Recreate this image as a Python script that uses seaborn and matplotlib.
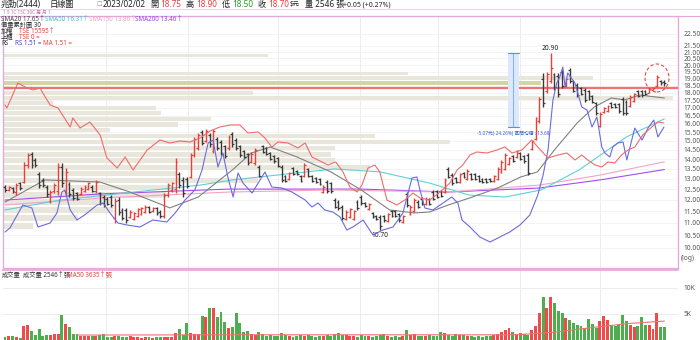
import numpy as np
import pandas as pd
import matplotlib
matplotlib.use("Agg")
import matplotlib.pyplot as plt
import matplotlib.ticker as mticker
from matplotlib.patches import Ellipse, Rectangle
from matplotlib.lines import Line2D
import seaborn as sns

# ---------------- data ----------------
opens = [12.62,12.45,12.55,12.35,12.78,12.85,13.70,14.25,13.95,13.25,12.95,12.60,11.95,12.40,12.40,13.60,12.40,12.75,12.45,12.30,
         12.28,12.42,12.52,12.62,12.40,12.30,12.15,12.05,12.15,11.20,12.00,11.55,11.55,11.25,11.18,11.30,11.38,11.48,11.68,11.50,
         11.62,11.48,11.30,12.20,12.45,12.50,13.25,12.95,13.00,13.10,14.20,14.60,15.50,15.00,15.35,14.45,15.10,14.95,14.70,14.60,
         15.40,15.05,14.70,14.45,14.25,13.85,13.80,13.60,14.70,14.60,14.32,14.15,14.05,13.60,13.12,12.98,13.52,13.40,13.12,13.15,
         13.48,13.12,13.02,12.98,12.38,12.85,12.78,12.00,11.92,11.70,11.18,11.25,11.18,11.92,12.15,11.86,11.60,11.42,11.30,11.25,
         11.28,11.08,11.50,11.50,11.36,11.04,12.25,11.38,11.52,11.92,12.05,11.82,12.02,12.38,12.40,12.40,12.38,13.50,13.20,13.02,
         12.84,13.30,13.00,13.22,13.22,13.12,13.00,13.00,13.00,12.88,13.00,13.35,13.50,13.75,14.15,14.10,14.32,14.15,14.20,14.55,
         15.10,16.20,19.00,18.10,18.80,19.30,19.20,19.50,18.45,19.65,18.80,18.55,18.30,18.20,18.10,17.78,17.30,15.90,16.72,16.80,
         17.32,17.28,17.25,17.60,17.40,17.12,17.45,18.12,18.12,18.15,18.02,18.22,18.45,18.85,18.75]
highs = [12.69,12.65,12.60,12.79,12.84,13.85,14.33,14.39,14.06,13.34,13.04,12.69,12.46,12.79,13.80,13.80,13.54,12.84,12.55,12.36,
         12.60,12.69,12.84,12.69,12.94,12.36,12.22,12.13,12.22,12.08,12.13,11.64,11.64,11.55,11.46,11.64,11.68,11.77,11.72,11.68,
         11.68,11.55,12.32,12.79,12.84,14.06,13.34,13.08,13.08,14.33,15.23,15.46,15.63,15.70,15.46,15.70,15.23,15.06,14.77,15.34,
         15.52,15.17,14.77,14.50,14.33,14.39,14.61,13.70,14.77,14.66,14.39,14.22,14.12,13.70,13.18,13.34,13.59,13.44,13.18,13.80,
         13.54,13.18,13.08,13.04,12.69,12.94,12.84,12.08,11.99,11.77,11.55,11.64,11.55,11.99,12.22,11.90,11.86,11.46,11.33,11.33,
         11.33,11.42,11.55,11.55,11.42,11.33,12.36,11.77,12.08,11.99,12.13,12.13,12.08,12.46,12.46,12.46,13.04,13.59,13.29,13.08,
         13.29,13.34,13.49,13.29,13.29,13.18,13.04,13.04,13.04,13.18,13.59,13.95,14.33,14.12,14.22,14.50,14.39,14.22,14.33,15.06,
         16.43,17.72,19.41,19.48,20.90,19.41,19.41,19.63,19.04,19.78,18.90,18.69,18.40,18.33,18.20,17.85,17.39,16.74,17.06,17.19,
         17.39,17.32,17.32,17.72,17.52,17.85,17.99,18.20,18.20,18.20,18.33,18.40,19.26,18.90,18.90]
lows = [12.36,12.41,12.32,12.22,12.46,12.79,13.54,13.54,13.59,12.55,12.60,12.13,11.86,12.32,12.22,12.60,12.22,12.13,11.99,11.99,
        12.22,12.36,12.46,12.36,12.32,11.77,11.68,11.77,11.68,11.00,11.33,11.12,11.00,11.21,11.12,11.25,11.33,11.42,11.42,11.46,
        11.33,11.21,11.21,12.13,12.36,12.32,12.55,12.13,12.55,13.04,14.12,14.50,14.77,14.94,14.66,14.33,14.50,14.22,14.06,14.50,
        14.66,14.50,14.12,14.06,13.70,13.80,13.70,13.08,14.33,14.22,13.95,13.80,13.59,12.84,12.84,12.94,13.18,13.18,12.84,13.08,
        13.08,12.84,12.79,12.69,12.32,12.32,12.32,11.64,11.55,11.12,11.12,11.21,11.12,11.55,11.77,11.68,11.55,11.21,11.12,10.70,
        11.04,11.04,11.25,11.25,11.04,11.00,11.68,11.33,11.46,11.64,11.77,11.77,11.77,11.99,12.08,12.13,12.32,13.04,12.69,12.79,
        12.79,13.04,12.94,12.94,12.94,12.84,12.79,12.79,12.84,12.84,12.94,13.29,13.44,13.70,13.85,14.06,13.95,13.80,13.18,14.50,
        15.06,16.06,17.06,17.99,18.69,18.20,17.72,18.33,18.40,18.69,18.06,17.72,17.85,17.39,17.52,17.32,16.55,15.81,16.68,16.74,
        17.00,17.00,16.68,16.55,16.55,17.06,17.39,17.72,17.72,17.85,17.99,18.20,18.40,18.54,18.50]
closes = [12.45,12.60,12.40,12.70,12.55,13.70,14.20,13.70,13.70,12.70,12.70,12.25,12.35,12.70,13.60,12.80,13.35,12.25,12.10,12.05,
          12.50,12.62,12.78,12.42,12.85,11.85,11.75,11.82,11.75,11.95,11.45,11.20,11.10,11.48,11.40,11.58,11.62,11.70,11.48,11.62,
          11.40,11.28,12.20,12.70,12.78,13.85,12.70,12.30,12.65,14.20,15.10,15.35,14.90,15.60,14.80,15.55,14.60,14.30,14.15,15.25,
          14.80,14.60,14.20,14.12,13.80,14.30,14.50,13.15,14.40,14.30,14.00,13.88,13.65,12.95,12.90,13.28,13.25,13.22,12.90,13.70,
          13.15,12.90,12.84,12.75,12.62,12.40,12.40,11.70,11.62,11.20,11.48,11.58,11.50,11.62,11.85,11.72,11.80,11.25,11.16,10.85,
          11.10,11.36,11.30,11.30,11.10,11.28,11.78,11.70,12.00,11.70,11.82,12.06,11.82,12.05,12.15,12.18,12.95,13.10,12.78,12.84,
          13.22,13.08,13.40,13.00,13.00,12.90,12.84,12.84,12.88,13.12,13.50,13.85,14.20,14.05,13.90,14.42,14.00,13.88,13.30,15.00,
          16.35,17.60,17.30,19.30,19.80,18.40,17.90,18.50,18.95,18.80,18.15,17.85,17.95,17.50,17.60,17.40,16.65,16.60,17.00,17.12,
          17.05,17.05,16.80,16.70,16.65,17.75,17.90,17.80,17.85,17.90,18.28,18.36,19.10,18.65,18.70]
volume = [630,770,830,600,450, 2700,2880,1790,960,2110, 770,960,960,1150,1090, 4800,3010,2560,1090,1090,
          770,700,770,700,770, 960,1150,640,580,770, 770,640,580,700,600, 500,450,550,500,450,
          600,500,550,500,600, 1410,2050,960,3260,1410, 1150,1090,4610,4480,6080, 6080,4480,5440,3390,2370,
          2560,5180,3260,1470,1730, 1200,900,1500,1100,800, 900,700,800,1300,900, 700,600,800,900,700,
          1000,700,600,800,700, 900,700,1100,1300,900, 1000,800,700,600,900, 800,700,600,700,900,
          1200,800,600,700,600, 700,1900,1000,1200,800, 700,800,900,700,800, 1600,1400,900,800,1100,
          900,1000,800,700,600, 700,600,800,700,900, 1200,1500,2000,2300,1500, 1200,1300,1100,1000,1900,
          2600,5200,8200,6200,8300, 7100,5600,5200,4200,3800, 3300,2800,2600,2400,4000, 3000,2300,3600,4600,3800,
          2900,2600,3100,4800,3600, 2900,2500,2600,4480,2880, 2880,2110,5180,2500,2546]

# moving averages (bar index, value)
sma20_i = [0,10.5,25,33,43.5,51,60,65,70,77,86,94,101.5,108,112,117,122.5,130,136,140.5,145,151,155.5,160,163.5,167.5,174]
sma20_v = [11.90,12.94,12.84,12.36,11.64,12.13,13.44,14.33,14.66,14.12,13.34,12.46,11.55,11.42,11.46,11.77,12.08,12.55,13.08,13.34,14.50,16.06,17.06,17.65,17.52,17.85,17.65]
sma50_i = [0,14.5,34,51.5,60,77,87,99,112,122.5,132,141.5,151.5,164,174]
sma50_v = [11.55,11.99,12.36,12.69,12.94,13.29,13.49,13.34,12.79,12.22,12.13,12.46,13.44,15.23,16.31]
sma150_i = [0,25,59,86,117,141,157,174]
sma150_v = [11.77,12.08,12.36,12.46,12.36,12.69,13.18,13.86]
sma200_i = [0,25,59,94,117,141,157,174]
sma200_v = [11.99,12.27,12.50,12.50,12.36,12.55,12.94,13.46]

rs_i = [0,1.3,4.7,7.1,8.7,11.9,13.7,15,15.8,17.2,19,21,24.3,25.9,27.7,29.8,32.2,35.6,39,42.7,44.9,47.5,50.1,52,53.6,54.9,
        56.2,57.5,58.8,60.2,61.5,62.8,65.2,67.3,68.6,70.4,73.1,75.7,79.2,81,82.6,84.4,86.5,88.4,90.2,91.8,94.5,97.1,99.7,
        102.4,105,107.4,108.7,109.5,110.8,112.9,115.6,117.9,119.5,120.6,122.7,125.3,128,130.6,133.2,135.9,138.5,140.6,142,
        143.3,144.6,145.6,146.4,147.2,147.8,148.5,150.4,152.2,153.6,154.9,156.2,157.5,158.3,159.6,160.4,161.7,163.1,164.1,
        165.4,166.2,168.1,169.7,171.2,172.3,173.9]
rs_v = [1.00,1.02,1.135,1.12,1.025,1.045,1.095,1.20,1.21,1.11,1.06,1.085,1.135,1.145,1.095,1.045,1.035,1.025,1.06,1.05,
        1.095,1.16,1.21,1.31,1.445,1.46,1.325,1.395,1.275,1.175,1.295,1.245,1.195,1.26,1.30,1.225,1.22,1.20,1.16,1.125,
        1.145,1.11,1.10,1.075,1.01,1.025,1.06,0.985,1.01,1.025,1.095,1.27,1.275,1.21,1.12,1.11,1.145,1.175,1.145,1.06,
        1.025,0.975,0.95,0.975,1.00,1.035,1.085,1.185,1.285,1.41,1.66,1.745,1.775,1.825,1.725,1.795,1.745,1.625,1.61,
        1.525,1.575,1.425,1.395,1.375,1.425,1.445,1.45,1.36,1.46,1.52,1.46,1.52,1.56,1.475,1.525]
rsma_i = [0,0.5,3.4,5.8,7.4,9.2,11.9,14,17.2,17.9,19.8,22.4,25.1,26.9,29.6,31.7,33.8,37.5,40.9,43.5,46.2,48.8,51.5,54.1,
          56.7,59.4,62,64.1,66.8,68.6,70.4,72,74.7,77.3,79.2,81,82.6,85.2,87.3,89.2,91,92.9,94.2,95.8,97.6,98.9,100.8,
          103.4,105.5,107.7,109.5,112.1,114.8,117.4,119.3,120.8,122.7,124.5,127.2,129.8,131.9,133.8,136.4,139,140.6,143.3,
          145.9,148.3,150.4,152.2,153.8,155.7,157.5,159.1,160.9,162.7,164.4,166.2,168.3,170.7,172.3,173.9]
rsma_v = [1.635,1.62,1.745,1.72,1.71,1.72,1.635,1.62,1.525,1.57,1.52,1.55,1.485,1.37,1.32,1.375,1.31,1.41,1.46,1.445,
          1.455,1.45,1.47,1.505,1.525,1.535,1.535,1.495,1.50,1.47,1.425,1.45,1.445,1.42,1.445,1.375,1.36,1.335,1.35,1.30,
          1.225,1.20,1.235,1.32,1.335,1.30,1.16,1.135,1.16,1.195,1.17,1.16,1.20,1.245,1.31,1.335,1.385,1.40,1.395,1.41,
          1.425,1.395,1.41,1.46,1.425,1.37,1.385,1.395,1.36,1.385,1.36,1.335,1.325,1.35,1.345,1.385,1.41,1.425,1.485,1.525,
          1.55,1.545]

volma_i = [19,64,100,135,145,155,165,174]
volma_v = [950,1000,1000,1000,1500,2400,3200,3635]

# volume-by-price profile: 30 price bins between the period low and high (thousand lots per bin)
vp_bins = 30
vp_range = (10.70, 20.90)
vp_vol = [3.0,7.5,11.0,10.8,16.3,17.0,25.5,17.3,36.7,33.2,32.8,33.2,44.7,37.2,10.7,17.5,20.8,15.8,15.3,5.0,
          67.0,25.0,1.0,53.8,59.0,40.5,0.0,0.0,0.0,26.5]

price_ticks = [10.0,10.5,11.0,11.5,12.0,12.5,13.0,13.5,14.0,14.5,15.0,15.5,16.0,16.5,17.0,17.5,18.0,18.5,19.0,19.5,20.0,20.5,21.0,21.5,22.5]
alert_price = 18.33

# ---------------- style ----------------
sns.set_theme(style="white")
plt.rcParams["font.family"] = ["Noto Sans", "Noto Sans CJK TC", "DejaVu Sans"]

RED = "#e8403a"
BLK = "#3a3a3a"
VRED = "#f04a4a"
VGRN = "#4cae4c"
PINK = "#e7a6dc"
GRID = "#ececec"

W, H = 700, 340
fig = plt.figure(figsize=(7, 3.4), dpi=100)
fx = lambda p: p / W
fy = lambda p: 1 - p / H

ax = fig.add_axes([fx(3), fy(268), fx(678) - fx(3), fy(16) - fy(268)])
axv = fig.add_axes([fx(3), 0, fx(678) - fx(3), fy(270)])

n = len(closes)
idx = np.arange(n)
XL = (-0.53, 177.6)

df = pd.DataFrame({"i": idx, "o": opens, "h": highs, "l": lows, "c": closes, "v": volume})
df["dir"] = np.where(df["c"] >= df["o"], "up", "down")

# price axis
ax.set_yscale("log")
ax.set_ylim(9.27, 24.08)
ax.set_xlim(*XL)
for gx in [26.6, 48.3, 72.0, 93.7, 114.2, 135.9, 157.0]:
    ax.axvline(gx, color=GRID, lw=0.7, zorder=0)
    axv.axvline(gx, color=GRID, lw=0.7, zorder=0)
for t in price_ticks:
    ax.axhline(t, color="#f3f3f3", lw=0.6, zorder=0)

# volume profile
edges = np.linspace(vp_range[0], vp_range[1], vp_bins + 1)
bin_h = edges[1] - edges[0]
span = XL[1] - XL[0]
vmax = 67.5
cur_bin = int((closes[-1] - vp_range[0]) // bin_h)
for k, vv in enumerate(vp_vol):
    if vv <= 0:
        continue
    ax.barh(edges[k] + 0.12 * bin_h, vv / vmax * span, height=0.76 * bin_h, left=XL[0], align="edge",
            color="#cfd8a2" if k == cur_bin else "#e9e6dc", lw=0, zorder=1)

ax.axhline(alert_price, color="#f07272", lw=1.6, zorder=2)

# moving averages
sns.lineplot(x=sma200_i, y=sma200_v, ax=ax, color="#a64cf0", lw=0.8, zorder=3)
sns.lineplot(x=sma150_i, y=sma150_v, ax=ax, color="#f5a3c4", lw=0.8, zorder=3)
sns.lineplot(x=sma50_i, y=sma50_v, ax=ax, color="#5fd0d4", lw=0.8, zorder=3)
sns.lineplot(x=sma20_i, y=sma20_v, ax=ax, color="#808080", lw=0.8, zorder=3)

# OHLC bars
cols = np.where(df["dir"] == "up", RED, BLK)
ax.vlines(df["i"], df["l"], df["h"], colors=cols, lw=1.0, zorder=5)
ax.hlines(df["o"], df["i"] - 0.5, df["i"], colors=cols, lw=0.9, zorder=5)
ax.hlines(df["c"], df["i"], df["i"] + 0.5, colors=cols, lw=0.9, zorder=5)

imax = int(np.argmax(highs))
imin = int(np.argmin(lows))
ax.text(imax, highs[imax] * 1.006, f"{highs[imax]:.2f}", ha="center", va="bottom", fontsize=4.8, color="#222")
ax.text(imin, lows[imin] * 0.994, f"{lows[imin]:.2f}", ha="center", va="top", fontsize=4.8, color="#222")

# RS overlay
axr = ax.twinx()
axr.set_ylim(0.82, 2.08)
sns.lineplot(x=rs_i, y=rs_v, ax=axr, color="#6a6ae0", lw=0.8)
sns.lineplot(x=rsma_i, y=rsma_v, ax=axr, color="#ef6b6b", lw=0.8)
axr.set_axis_off()
axr.set_xlim(*XL)

# measurement box
i0, i1 = 132.7, 135.6
ax.add_patch(Rectangle((i0, 15.83), i1 - i0, 20.90 - 15.83, facecolor="#dce9fb", edgecolor="none", zorder=2))
ax.plot([(i0 + i1) / 2] * 2, [15.83, 20.90], color="#8fb3e8", lw=0.8, zorder=2)
ax.plot([i0, i1], [20.90, 20.90], color="#5b8fe0", lw=0.8, zorder=2)
ax.plot([i0, i1], [15.83, 15.83], color="#5b8fe0", lw=0.8, zorder=2)
ax.text((i0 + i1) / 2, 15.6, "-5.07元(-24.26%) 區間均價 : 13.68", ha="center", va="top", fontsize=3.4, color="#3a5fd0")

# dashed circle
fig.add_artist(Ellipse((fx(657), fy(78)), 24 / W, 28 / H, transform=fig.transFigure,
                       fill=False, ls=(0, (3, 2)), lw=0.8, ec="#e24c4c"))

ax.set_yticks(price_ticks)
ax.yaxis.set_major_formatter(mticker.FixedFormatter([f"{t:.2f}" for t in price_ticks]))
ax.yaxis.set_minor_locator(mticker.NullLocator())
ax.yaxis.tick_right()
ax.tick_params(axis="y", labelsize=4.8, colors="#555", length=0, pad=4)
ax.set_xticks([])
ax.set_xlabel(""); ax.set_ylabel("")
for s in ax.spines.values():
    s.set_color(PINK); s.set_linewidth(0.9)
fig.text(fx(681), fy(259), "(log)", fontsize=4.8, color="#555", va="center")

# volume panel
sns.barplot(data=df, x="i", y="v", hue="dir", palette={"up": VRED, "down": VGRN},
            native_scale=True, width=0.78, dodge=False, saturation=1, linewidth=0,
            legend=False, ax=axv)
sns.lineplot(x=volma_i, y=volma_v, ax=axv, color="#f07070", lw=0.8)
axv.set_xlim(*XL)
axv.set_ylim(0, 13460)
axv.set_yticks([5000, 10000])
axv.set_yticklabels(["5K", "10K"])
axv.yaxis.tick_right()
axv.tick_params(axis="y", labelsize=4.8, colors="#555", length=0, pad=4)
for t in [5000, 10000]:
    axv.axhline(t, color=GRID, lw=0.7, zorder=0)
axv.set_xticks([])
axv.set_xlabel(""); axv.set_ylabel("")
for k, s in axv.spines.items():
    s.set_visible(k == "top")
    s.set_color(PINK)

# header
def T(x, y, s, c="#222", fs=4.5, **kw):
    fig.text(fx(x), fy(y), s, color=c, fontsize=fs, va="center", ha="left", **kw)

HF = 5.9
T(0.5, 4.6, "兆勁(2444)", fs=HF)
T(49, 4.6, "日線圖", fs=HF)
T(96, 4.6, "☐", c="#888", fs=4.5, family=["DejaVu Sans"])
T(103, 4.6, "2023/02/02", fs=HF)
T(150, 4.6, "開", fs=HF); T(160, 4.6, "18.75", c=RED, fs=HF)
T(186, 4.6, "高", fs=HF); T(196, 4.6, "18.90", c=RED, fs=HF)
T(222, 4.6, "低", fs=HF); T(232, 4.6, "18.50", c="#2a9a2a", fs=HF)
T(258, 4.6, "收", fs=HF); T(268, 4.6, "18.70", c=RED, fs=HF)
T(290, 4.6, "$元", fs=4.6)
T(305, 4.6, "量 2546 張", fs=HF)
T(343, 4.6, "+0.05 (+0.27%)", fs=5.0)
fig.add_artist(Line2D([0, 1], [fy(9.0), fy(9.0)], transform=fig.transFigure, color="#f0c8e8", lw=0.6))
T(3, 12.4, "1 5 1C 15C 30C 周 月 1", c="#c070b0", fs=3.3)
fig.add_artist(Line2D([0, 1], [fy(15.5), fy(15.5)], transform=fig.transFigure, color=PINK, lw=0.8))

LF = 4.5
T(1, 19.5, "SMA20 17.65↑", c="#444", fs=LF)
T(45, 19.5, "SMA50 16.31↑", c="#3cc0c8", fs=LF)
T(89, 19.5, "SMA150 13.86↑", c="#f0a0c0", fs=LF)
T(135, 19.5, "SMA200 13.46↑", c="#9a40e8", fs=LF)
T(1, 25.5, "價量累計圖 30", c="#333", fs=LF)
T(1, 31.5, "加權", c="#333", fs=LF); T(19, 31.5, "TSE 15595↑", c=RED, fs=LF)
T(1, 37.5, "上櫃", c="#333", fs=LF); T(19, 37.5, "TSE 0 =", c=RED, fs=LF)
T(1, 43.5, "RS", c="#333", fs=LF); T(15, 43.5, "RS 1.51 =", c="#4040d0", fs=LF); T(43, 43.5, "MA 1.51 =", c=RED, fs=LF)

T(2, 275, "成交量", c="#333", fs=4.5)
T(23, 275, "成交量 2546↑張", c="#333", fs=4.5)
T(67, 275, "MA50 3635↑張", c=RED, fs=4.5)

fig.savefig("out.png", dpi=100)
